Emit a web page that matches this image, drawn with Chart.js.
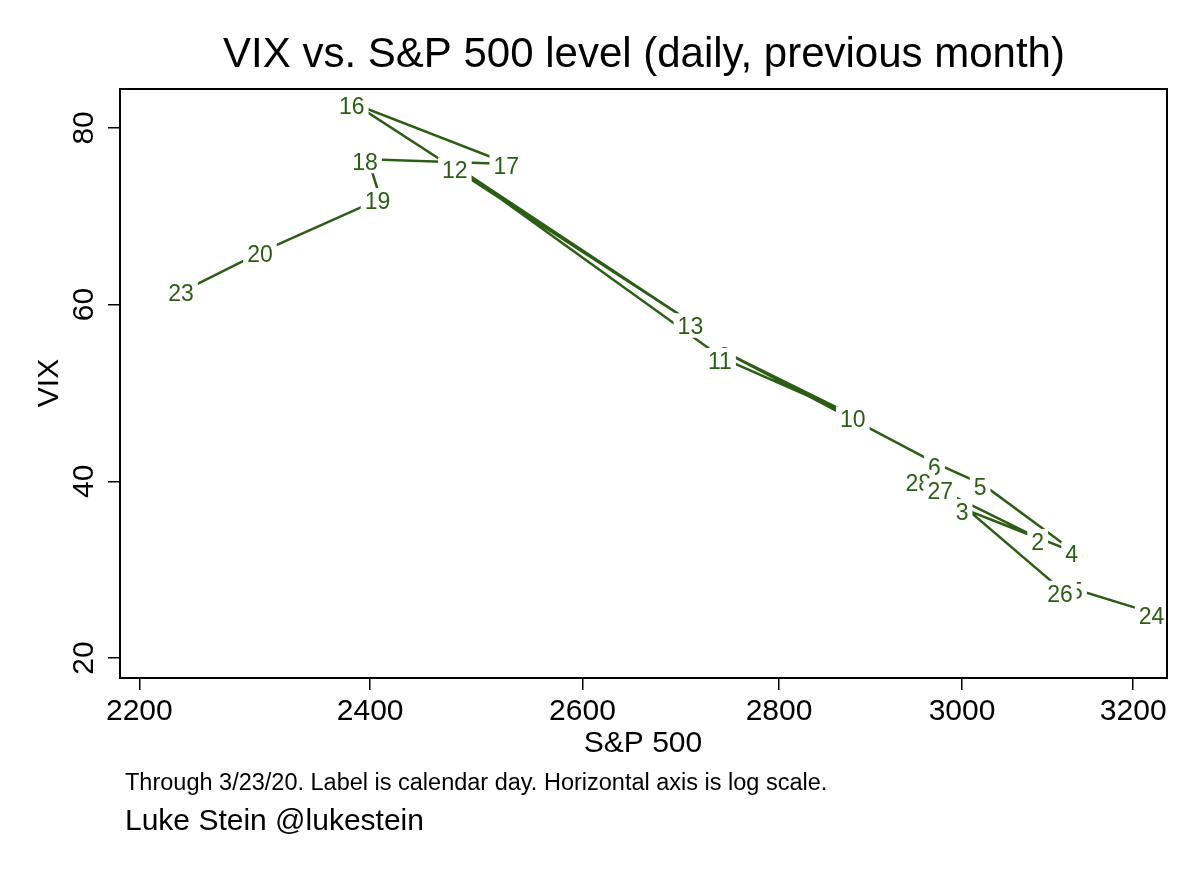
<!DOCTYPE html>
<html>
<head>
<meta charset="utf-8">
<script src="https://cdn.jsdelivr.net/npm/chart.js@4.4.0/dist/chart.umd.min.js"></script>
<style>
  body { margin: 0; background: #fff; }
  canvas { display: block; }
</style>
</head>
<body>
<canvas id="chart" width="1200" height="873"></canvas>
<script>
// calendar day labels, Feb 24 - Mar 23 2020
const days = ['24', '25', '26', '27', '28', '2', '3', '4', '5', '6', '9', '10', '11', '12', '13', '16', '17', '18', '19', '20', '23'];
const spx = [3225.89, 3128.21, 3116.39, 2978.76, 2954.22, 3090.23, 3003.37, 3130.12, 3023.94, 2972.37, 2746.56, 2882.23, 2741.38, 2480.64, 2711.02, 2386.13, 2529.19, 2398.10, 2409.39, 2304.92, 2237.40];
const vix = [25.03, 27.85, 27.56, 39.16, 40.11, 33.42, 36.82, 31.99, 39.62, 41.94, 54.46, 47.30, 53.90, 75.47, 57.83, 82.69, 75.91, 76.45, 72.00, 66.04, 61.59];
const xTicks = [2200, 2400, 2600, 2800, 3000, 3200];
const yTicks = [20, 40, 60, 80];

const green = '#2b5e14';
const font = '"Liberation Sans", Arial, Helvetica, sans-serif';

const points = spx.map((v, i) => ({ x: v, y: vix[i] }));

// labels with white boxes; drawn top to bottom so lower ones cover higher ones
const labelPlugin = {
    id: 'labels',
    afterDatasetsDraw(chart) {
        const ctx = chart.ctx;
        const meta = chart.getDatasetMeta(0);
        const order = vix.map((v, i) => i).sort((a, b) => vix[b] - vix[a]);
        ctx.save();
        ctx.font = '23px ' + font;
        ctx.textAlign = 'center';
        ctx.textBaseline = 'middle';
        order.forEach(i => {
            const pt = meta.data[i];
            const cx = pt.x - 3, cy = pt.y + 3;
            const w = ctx.measureText(days[i]).width;
            ctx.fillStyle = '#fff';
            ctx.fillRect(cx - w / 2 - 4, cy - 13.5, w + 8, 24.5);
            ctx.fillStyle = green;
            ctx.fillText(days[i], cx, cy + 1);
        });
        ctx.restore();
    }
};

// frame, rotated y tick labels and all the text around the plot
const decorPlugin = {
    id: 'decor',
    afterDraw(chart) {
        const ctx = chart.ctx;
        const a = chart.chartArea;
        const yScale = chart.scales.y;
        ctx.save();
        ctx.strokeStyle = '#000';
        ctx.lineWidth = 2;
        ctx.strokeRect(a.left, a.top, a.right - a.left, a.bottom - a.top);

        ctx.fillStyle = '#000';
        ctx.textAlign = 'center';
        ctx.textBaseline = 'middle';
        ctx.font = '30px ' + font;
        yTicks.forEach(v => {
            const py = yScale.getPixelForValue(v);
            ctx.save();
            ctx.translate(85, py);
            ctx.rotate(-Math.PI / 2);
            ctx.fillText(String(v), 0, 0);
            ctx.restore();
        });

        ctx.save();
        ctx.translate(50, 383);
        ctx.rotate(-Math.PI / 2);
        ctx.fillText('VIX', 0, 0);
        ctx.restore();

        ctx.fillText('S&P 500', 643, 744);

        ctx.font = '42px ' + font;
        ctx.fillText('VIX vs. S&P 500 level (daily, previous month)', 644, 55);

        ctx.textAlign = 'left';
        ctx.textBaseline = 'alphabetic';
        ctx.font = '23.5px ' + font;
        ctx.fillText('Through 3/23/20. Label is calendar day. Horizontal axis is log scale.', 125, 790);
        ctx.font = '30px ' + font;
        ctx.fillText('Luke Stein @lukestein', 125, 830);
        ctx.restore();
    }
};

new Chart(document.getElementById('chart'), {
    type: 'scatter',
    data: {
        datasets: [{
            data: points,
            showLine: true,
            borderColor: green,
            borderWidth: 2.5,
            pointRadius: 0,
            tension: 0
        }]
    },
    options: {
        responsive: false,
        animation: false,
        devicePixelRatio: 1,
        layout: { padding: { top: 89, right: 33, left: 0, bottom: 0 } },
        plugins: {
            legend: { display: false },
            tooltip: { enabled: false }
        },
        scales: {
            x: {
                type: 'logarithmic',
                min: 2184,
                max: 3241,
                afterBuildTicks: s => { s.ticks = xTicks.map(v => ({ value: v })); },
                afterFit: s => { s.height = 195; },
                grid: { drawOnChartArea: false, drawTicks: true, tickLength: 12, color: '#000', lineWidth: 1.5 },
                border: { display: false },
                ticks: {
                    color: '#000',
                    font: { size: 30, family: font },
                    padding: 4,
                    maxRotation: 0,
                    callback: v => String(v)
                }
            },
            y: {
                type: 'linear',
                min: 17.74,
                max: 84.4,
                afterBuildTicks: s => { s.ticks = yTicks.map(v => ({ value: v })); },
                afterFit: s => { s.width = 120; },
                grid: { drawOnChartArea: false, drawTicks: true, tickLength: 12, color: '#000', lineWidth: 1.5 },
                border: { display: false },
                ticks: { display: true, color: 'rgba(0,0,0,0)', font: { size: 10 } }
            }
        }
    },
    plugins: [labelPlugin, decorPlugin]
});
</script>
</body>
</html>
